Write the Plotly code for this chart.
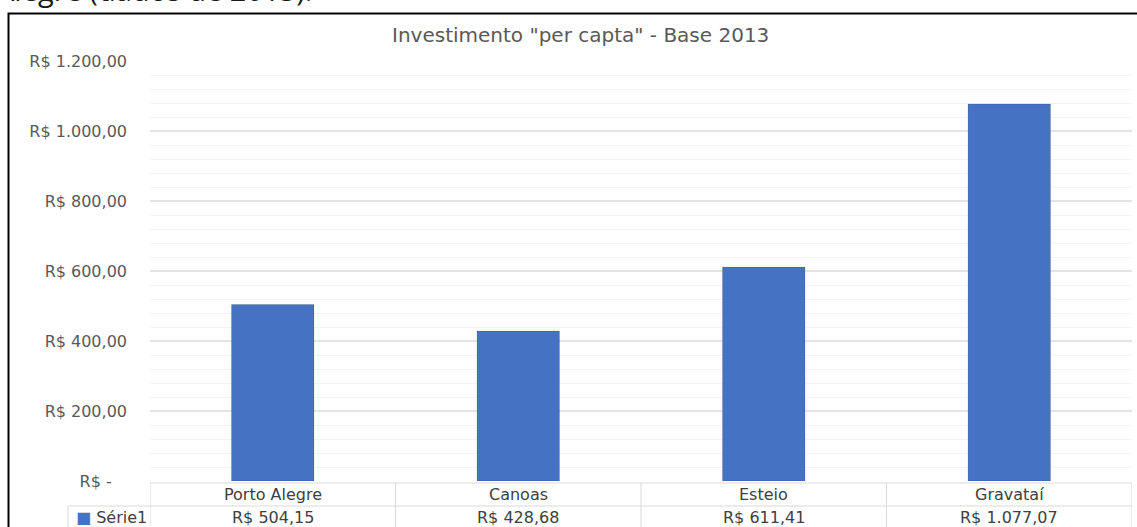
import plotly.graph_objects as go

categories = ["Porto Alegre", "Canoas", "Esteio", "Gravataí"]
values = [504.15, 428.68, 611.41, 1077.07]
series_name = "Série1"
title_text = 'Investimento "per capta" - Base 2013'
tick_values = [0, 200, 400, 600, 800, 1000, 1200]
caption_text = "Alegre (dados de 2013)."


def brl(v):
    s = f"{v:,.2f}"
    s = s.replace(",", "#").replace(".", ",").replace("#", ".")
    return "R$ " + s


tick_text = ["R$ -\u00a0\u00a0\u00a0" if v == 0 else brl(v) for v in tick_values]

FONT = "DejaVu Sans"
TXT = "#595959"
GRID = "#e4e4e4"
LINE = "#d9d9d9"
BAR = "#4672c4"

W, H = 1137, 527
L, R, T, B = 150, W - 1132, 61, H - 481
PW, PH = W - L - R, H - T - B


def px(xp):
    return (xp - L) / PW


def py(yp):
    return (H - B - yp) / PH


fig = go.Figure()
fig.add_trace(go.Bar(
    x=categories, y=values, name=series_name,
    marker=dict(color=BAR, line=dict(color="rgba(0,0,0,0.12)", width=1)),
    showlegend=False, hoverinfo="x+y",
))

fig.update_layout(
    width=W, height=H,
    margin=dict(l=L, r=R, t=T, b=B, autoexpand=False),
    paper_bgcolor="white", plot_bgcolor="white",
    bargap=0.664,
    font=dict(family=FONT, size=16, color=TXT),
    showlegend=False,
)
fig.update_xaxes(
    type="category", range=[-0.5, len(categories) - 0.5],
    showticklabels=False, showgrid=False, zeroline=False, showline=False, ticks="",
)
fig.update_yaxes(
    range=[0, 1200], tickvals=tick_values, ticktext=tick_text,
    showgrid=True, gridcolor=GRID, gridwidth=1.5, zeroline=False, showline=False,
    ticks="", ticklabelstandoff=22,
    tickfont=dict(family=FONT, size=16, color=TXT),
    minor=dict(dtick=40, showgrid=True, gridcolor="#f3f3f3", gridwidth=1),
)

shapes = []
# outer chart frame
shapes.append(dict(type="rect", xref="paper", yref="paper",
                   x0=px(8.5), x1=px(1145), y0=py(13.5), y1=py(540),
                   line=dict(color="black", width=2), fillcolor="rgba(0,0,0,0)", layer="above"))
# data table lines
yt, ym, yb = py(483), py(506), py(530)
shapes.append(dict(type="line", xref="paper", yref="paper", x0=0, x1=1, y0=yt, y1=yt,
                   line=dict(color=LINE, width=1)))
shapes.append(dict(type="line", xref="paper", yref="paper", x0=px(68), x1=1, y0=ym, y1=ym,
                   line=dict(color=LINE, width=1)))
shapes.append(dict(type="line", xref="paper", yref="paper", x0=px(68), x1=px(68), y0=ym, y1=yb,
                   line=dict(color=LINE, width=1)))
for i in range(len(categories) + 1):
    shapes.append(dict(type="line", xref="x", yref="paper", x0=i - 0.5, x1=i - 0.5, y0=yt, y1=yb,
                       line=dict(color=LINE, width=1)))

annotations = []
annotations.append(dict(text=title_text, xref="paper", yref="paper", x=px(580), y=py(35),
                        xanchor="center", yanchor="middle", showarrow=False,
                        font=dict(family=FONT, size=20, color=TXT)))
annotations.append(dict(text=caption_text, xref="paper", yref="paper", x=px(-6), y=py(11),
                        xanchor="left", yanchor="bottom", showarrow=False,
                        font=dict(family="Open Sans", size=29, color="#1a1a1a")))
for c, v in zip(categories, values):
    annotations.append(dict(text=c, xref="x", yref="paper", x=c, y=py(494.5),
                            xanchor="center", yanchor="middle", showarrow=False,
                            font=dict(family=FONT, size=16, color="#404040")))
    annotations.append(dict(text=brl(v), xref="x", yref="paper", x=c, y=py(517),
                            xanchor="center", yanchor="middle", showarrow=False,
                            font=dict(family=FONT, size=16, color="#404040")))
annotations.append(dict(text=f"<span style='color:{BAR}'>■</span> {series_name}",
                        xref="paper", yref="paper", x=px(74), y=py(517),
                        xanchor="left", yanchor="middle", showarrow=False,
                        font=dict(family=FONT, size=16, color="#404040")))

fig.update_layout(shapes=shapes, annotations=annotations)
fig.write_html("out.html", config={"displayModeBar": False},
               post_script="document.body.style.margin='0px';")
